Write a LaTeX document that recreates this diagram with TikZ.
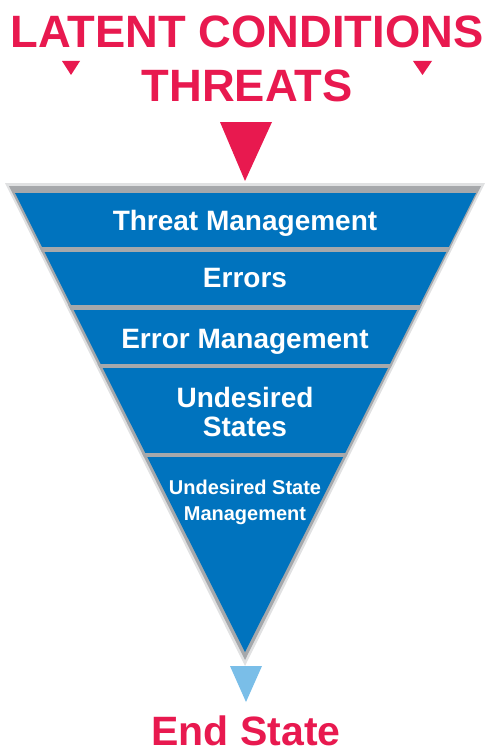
\documentclass[tikz,border=0pt]{standalone}
\usepackage{fontspec}
\setmainfont{Liberation Sans}
\usepackage{tikz}
\usetikzlibrary{positioning}
\definecolor{threatred}{RGB}{232,25,79}
\definecolor{funnelblue}{RGB}{0,115,190}
\definecolor{endblue}{RGB}{122,190,232}
\definecolor{rimgray}{RGB}{166,168,171}

\begin{document}
\begin{tikzpicture}[x=0.75pt,y=-0.75pt,
 title/.style={text=threatred,font=\bfseries\fontsize{34}{40.5}\selectfont,align=center,anchor=base,inner sep=0pt},
 band/.style={text=white,font=\bfseries\fontsize{21}{21.75}\selectfont,align=center,anchor=base,inner sep=0pt},
 smallband/.style={text=white,font=\bfseries\fontsize{15}{19.5}\selectfont,align=center,anchor=base,inner sep=0pt},
 sep/.style={rimgray,line width=3.4pt}]
 \useasboundingbox (0,0) rectangle (486,749);
 % heading and pointers (base = last line)
 \node[title] (latent) at (247,102) {LATENT CONDITIONS\\THREATS};
 \fill[threatred] (62,61) -- (80,61) -- (71,75) -- cycle;
 \fill[threatred] (413,61) -- (432,61) -- (422.5,75) -- cycle;
 \fill[threatred] (220,122) -- (272,122) -- (245,181) -- cycle;
 % funnel
 \fill[rimgray!35] (5,183) -- (485,183) -- (245,666) -- cycle;
 \fill[rimgray] (9,186) -- (481,186) -- (245,660) -- cycle;
 \fill[funnelblue] (15,193) -- (476,193) -- (245,652) -- cycle;
 \begin{scope}
  \clip (9,186) -- (481,186) -- (245,660) -- cycle;
  \foreach \y in {249.5,307.5,366,455}
   \draw[sep] (0,\y) -- (486,\y);
 \end{scope}
 \node[band] (tm) at (245,230) {Threat Management};
 \node[band] (err) at (245,287) {Errors};
 \node[band] (em) at (245,348) {Error Management};
 \node[band] (us) at (245,436) {Undesired\\States};
 \node[smallband] (usm) at (245,520) {Undesired State\\Management};
 % outcome
 \fill[endblue] (230,666) -- (262,666) -- (246,702) -- cycle;
 \node[title,font=\bfseries\fontsize{30.75}{36}\selectfont] (end) at (246,745) {End State};
\end{tikzpicture}
\end{document}
